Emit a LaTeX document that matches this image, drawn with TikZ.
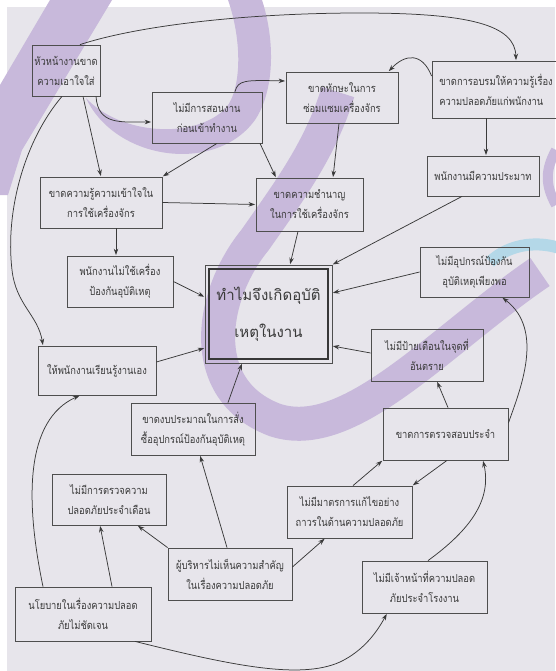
\documentclass[tikz,border=0pt]{standalone}
\usepackage{fontspec}
\newfontfamily\thai[Script=Thai,FakeStretch=0.85]{Loma}
\newfontfamily\thaibig[Script=Thai]{Loma}
\usetikzlibrary{arrows.meta,calc}

\definecolor{paper}{HTML}{E7E5EB}
\definecolor{wm}{HTML}{C8B9DB}
\definecolor{wmblue}{HTML}{B4D8E8}
\definecolor{ink}{HTML}{3A3A3A}
\definecolor{edge}{HTML}{4E4E4E}

\tikzset{
  box/.style={draw=edge, line width=0.8pt, align=center, inner sep=0pt, text=ink,
    font=\thai\fontsize{11}{20}\selectfont},
  link/.style={draw=ink, line width=0.75pt, -{Stealth[length=6.5pt,width=4.5pt]}, shorten >=0.5pt},
}

\begin{document}
\begin{tikzpicture}[x=1pt,y=-1pt]
\useasboundingbox (0,0) rectangle (555,671);
\fill[white] (0,0) rectangle (555,671);
\fill[paper] (7,7) rectangle (555,671);

% background swooshes
\fill[wm] (50,0) -- (112,0) -- (22,150) -- (8,195) -- (0,195) -- (0,85) -- cycle;
\fill[wm] (86,98) .. controls (115,160) and (215,175) .. (255,120)
  .. controls (275,90) and (275,40) .. (262,0) -- (228,0)
  .. controls (242,40) and (242,88) .. (226,108)
  .. controls (195,140) and (120,135) .. (86,98) -- cycle;
\draw[wm, line width=34pt] (338,92) .. controls (320,150) and (290,190) .. (255,240)
  .. controls (210,295) and (195,390) .. (275,420)
  .. controls (350,445) and (440,340) .. (540,272);
\draw[wmblue, line width=12pt] (490,262) .. controls (510,243) and (540,240) .. (565,250);
\draw[wm, line width=10pt] (556,150) .. controls (545,170) and (545,185) .. (556,205);

% boxes
\node[box, minimum width=68pt,  minimum height=51pt] (A) at (66,70.5)   {หัวหน้างานขาด\\ความเอาใจใส่};
\node[box, minimum width=110pt, minimum height=51pt] (B) at (207,117.5) {ไม่มีการสอนงาน\\ก่อนเข้าทำงาน};
\node[box, minimum width=112pt, minimum height=51pt] (C) at (342,97.5)  {ขาดทักษะในการ\\ซ่อมแซมเครื่องจักร};
\node[box, minimum width=128pt, minimum height=57pt, align=left] (D) at (496,89.5) {ขาดการอบรมให้ความรู้เรื่อง\\ความปลอดภัยแก่พนักงาน};
\node[box, minimum width=112pt, minimum height=40pt] (E) at (483,176)   {พนักงานมีความประมาท};
\node[box, minimum width=122pt, minimum height=51pt] (F) at (101,202.5) {ขาดความรู้ความเข้าใจใน\\การใช้เครื่องจักร};
\node[box, minimum width=107pt, minimum height=53pt] (G) at (309.5,204.5) {ขาดความชำนาญ\\ในการใช้เครื่องจักร};
\node[box, minimum width=106pt, minimum height=51pt] (H) at (120,281.5) {พนักงานไม่ใช้เครื่อง\\ป้องกันอุบัติเหตุ};
\node[box, minimum width=127pt, minimum height=98pt, line width=0.6pt,
      font=\thaibig\fontsize{15}{37}\selectfont] (I) at (268.5,314) {ทำไมจึงเกิดอุบัติ\\เหตุในงาน};
\draw[edge!70!black, line width=2.2pt] ([shift={(4pt,-4pt)}]I.north west) rectangle ([shift={(-4pt,4pt)}]I.south east);
\node[box, minimum width=109pt, minimum height=50pt] (J) at (474.5,272) {ไม่มีอุปกรณ์ป้องกัน\\อุบัติเหตุเพียงพอ};
\node[box, minimum width=112pt, minimum height=52pt] (K) at (427,355)   {ไม่มีป้ายเตือนในจุดที่\\อันตราย};
\node[box, minimum width=118pt, minimum height=49pt] (L) at (97,370.5)  {ให้พนักงานเรียนรู้งานเอง};
\node[box, minimum width=124pt, minimum height=52pt] (M) at (193,429)   {ขาดงบประมาณในการสั่ง\\ซื้ออุปกรณ์ป้องกันอุบัติเหตุ};
\node[box, minimum width=125pt, minimum height=52pt] (N) at (445.5,434) {ขาดการตรวจสอบประจำ};
\node[box, minimum width=114pt, minimum height=51pt] (O) at (109,499.5) {ไม่มีการตรวจความ\\ปลอดภัยประจำเดือน};
\node[box, minimum width=125pt, minimum height=52pt] (P) at (349.5,512) {ไม่มีมาตรการแก้ไขอย่าง\\ถาวรในด้านความปลอดภัย};
\node[box, minimum width=124pt, minimum height=52pt] (Q) at (230,574)   {ผู้บริหารไม่เห็นความสำคัญ\\ในเรื่องความปลอดภัย};
\node[box, minimum width=136pt, minimum height=54pt] (R) at (83,614)    {นโยบายในเรื่องความปลอด\\ภัยไม่ชัดเจน};
\node[box, minimum width=125pt, minimum height=52pt] (S) at (424.5,587) {ไม่มีเจ้าหน้าที่ความปลอด\\ภัยประจำโรงงาน};

% connectors
\draw[link] ([xshift=14pt]A.north) .. controls (140,25) and (250,13) .. (360,13)
  .. controls (470,13) and (515,25) .. ([xshift=20pt]D.north);
\draw[link] ([xshift=30pt]A.south) .. controls (98,125) and (120,122) .. ([yshift=-4.5pt]B.west);
\draw[link] ([xshift=17pt]A.south) -- (F.north);
\draw[link] ([xshift=-4pt]A.south) .. controls (25,140) and (5,210) .. (12,270)
  .. controls (16,305) and (38,315) .. ([xshift=-54pt]L.north);
\draw[link] ([xshift=28pt]B.north) .. controls (238,80) and (245,80) .. ([yshift=16.5pt]C.west);
\draw[link] ([xshift=10pt]B.south) -- (F.north east);
\draw[link] ([xshift=53pt]B.south) -- ([xshift=-33.5pt]G.north);
\draw[link] ([xshift=-3pt]C.south) -- ([xshift=23.5pt]G.north);
\draw[link] ([yshift=13.5pt]D.west) .. controls (422,52) and (405,54) .. ([xshift=-10pt]C.north east);
\draw[link] ([xshift=-10pt]D.south) -- ([xshift=3pt]E.north);
\draw[link] (F.east) -- (G.west);
\draw[link] ([xshift=15pt]F.south) -- ([xshift=-4pt]H.north);
\draw[link] (H.east) -- ([yshift=17pt]I.west);
\draw[link] ([xshift=-11.5pt]G.south) -- ([xshift=21.5pt]I.north);
\draw[link] ([xshift=-21pt]E.south) -- (I.north east);
\draw[link] (J.west) -- ([yshift=21pt]I.east);
\draw[link] ([yshift=2pt]K.west) -- ([yshift=-32pt]I.east);
\draw[link] ([yshift=8.5pt]L.east) -- ([yshift=-34pt]I.west);
\draw[link] ([xshift=35pt]M.north) -- ([xshift=-26.5pt]I.south);
\draw[link] ([xshift=2.5pt]N.north) -- ([xshift=10pt]K.south);
\draw[link] ([yshift=11pt]N.east) .. controls (520,390) and (545,330) .. ([xshift=27.5pt]J.south);
\draw[link] ([xshift=3.5pt]P.north) -- (N.south west);
\draw[link] ([xshift=1.5pt]N.south) -- (P.north east);
\draw[link] ([xshift=3.5pt]S.north) .. controls (470,530) and (492,500) .. ([xshift=37.5pt]N.south);
\draw[link] ([yshift=7pt]Q.east) -- ([xshift=-24.5pt]P.south);
\draw[link] (Q.north west) -- ([xshift=-29pt]O.south east);
\draw[link] ([xshift=-3pt]Q.north) -- ([xshift=7pt]M.south);
\draw[link] ([xshift=29pt]R.north) -- ([xshift=-9pt]O.south);
\draw[link] ([xshift=-40pt]R.north) .. controls (25,500) and (25,420) .. ([xshift=-17pt]L.south);
\draw[link] ([xshift=52pt]R.south) .. controls (230,665) and (300,680) .. (340,662)
  .. controls (365,650) and (378,630) .. ([xshift=-37.5pt]S.south);
\end{tikzpicture}
\end{document}
